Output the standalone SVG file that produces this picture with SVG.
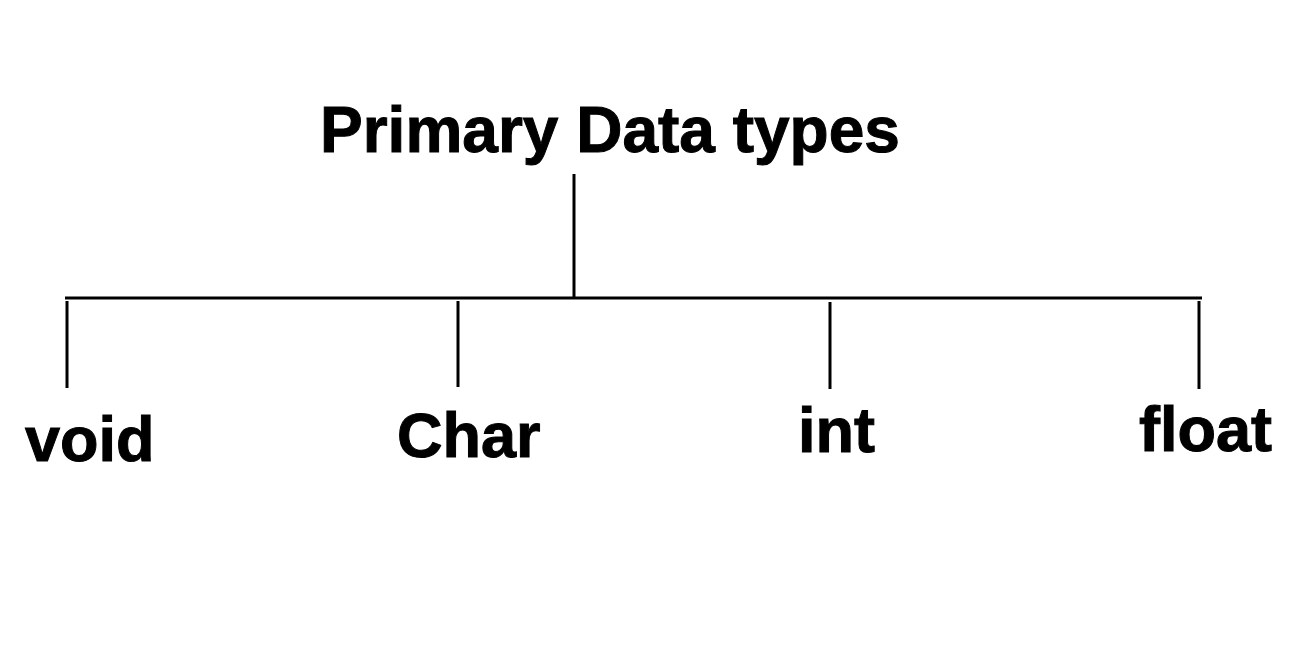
<svg xmlns="http://www.w3.org/2000/svg" width="1305" height="652" viewBox="0 0 1305 652">
<style>
.t{font-family:"Liberation Sans",Arial,sans-serif;font-weight:bold;fill:#000;stroke:#000;stroke-width:1}
.c{stroke:#000;stroke-width:3;fill:none}
</style>
<rect width="1305" height="652" fill="#fff"/>
<g id="connectors">
<line class="c" x1="574" y1="174" x2="574" y2="298"/>
<line class="c" x1="65" y1="298" x2="1202" y2="298"/>
<line class="c" x1="67" y1="301" x2="67" y2="388"/>
<line class="c" x1="458" y1="301" x2="458" y2="387"/>
<line class="c" x1="830" y1="302" x2="830" y2="389"/>
<line class="c" x1="1199" y1="301" x2="1199" y2="389"/>
</g>
<g id="root"><text class="t" x="320" y="152" font-size="64">Primary Data types</text></g>
<g id="void"><text class="t" x="25" y="461" font-size="63">void</text></g>
<g id="char"><text class="t" x="397" y="457" font-size="63">Char</text></g>
<g id="int"><text class="t" x="798" y="452" font-size="63">int</text></g>
<g id="float"><text class="t" x="1139" y="451" font-size="63">float</text></g>
</svg>
